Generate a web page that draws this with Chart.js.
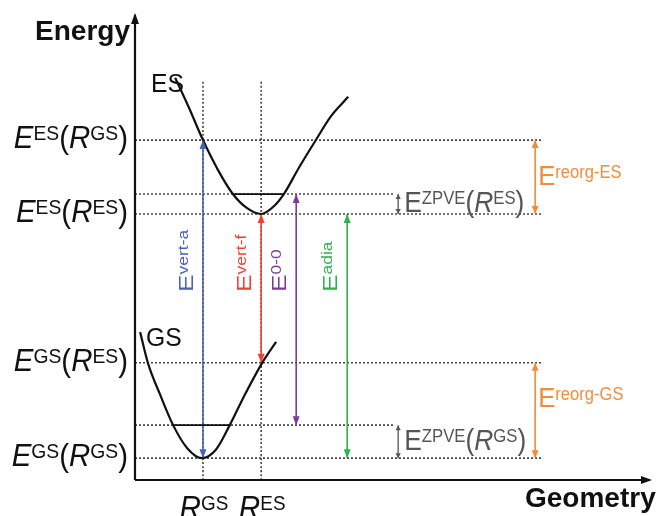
<!DOCTYPE html>
<html>
<head>
<meta charset="utf-8">
<script src="https://cdn.jsdelivr.net/npm/chart.js@4.4.1/dist/chart.umd.min.js"></script>
<style>
html, body { margin: 0; padding: 0; background: #fff; }
#wrap { width: 661px; height: 516px; }
</style>
</head>
<body>
<div id="wrap"><canvas id="chart" width="661" height="516"></canvas></div>
<script>
// ===== Data (energy and geometry in arbitrary units) =====

const levelLabels = ['*E*^{ES}(*R*^{GS})', '*E*^{ES}(*R*^{ES})', '*E*^{GS}(*R*^{ES})', '*E*^{GS}(*R*^{GS})'];
const levelEnergies = [7.31, 5.72, 2.52, 0.47];
const levelGuideEnd = 7.90;

const geometryLabels = ['*R*^{GS}', '*R*^{ES}'];
const geometryValues = [1.32, 2.45];
const geometryGuideTop = 8.6;

const esCurveX = [0.78, 1.05, 1.32, 1.61, 1.90, 2.17, 2.45, 2.68, 2.89, 3.18, 3.50, 3.81, 4.14];
const esCurveY = [8.65, 8.00, 7.31, 6.67, 6.15, 5.85, 5.72, 5.87, 6.15, 6.71, 7.29, 7.83, 8.24];
const gsCurveX = [0.10, 0.25, 0.49, 0.74, 1.01, 1.30, 1.57, 1.84, 2.14, 2.47, 2.74];
const gsCurveY = [3.18, 2.52, 1.83, 1.18, 0.69, 0.47, 0.65, 1.18, 1.85, 2.52, 2.97];

const zpveLabels = ['E^{ZPVE}(*R*^{ES})', 'E^{ZPVE}(*R*^{GS})'];
const zpveLow = [5.72, 0.47];
const zpveHigh = [6.15, 1.18];
const zpveLevelLeft = [1.90, 0.74];
const zpveLevelRight = [2.89, 1.84];
const zpveArrowX = 5.11;
const zpveGuideEnd = 5.05;

const transitionLabels = ['E^{vert-a}', 'E^{vert-f}', 'E^{0-0}', 'E^{adia}'];
const transitionX = [1.32, 2.45, 3.13, 4.12];
const transitionLow = [0.47, 2.52, 1.18, 0.47];
const transitionHigh = [7.31, 5.72, 6.15, 5.72];

const reorgLabels = ['E^{reorg-ES}', 'E^{reorg-GS}'];
const reorgX = 7.77;
const reorgLow = [5.72, 0.47];
const reorgHigh = [7.31, 2.52];

// ===== Styles =====

const FONT = '"Liberation Sans", Arial, sans-serif';
const transitionColors = ['#4a62b8', '#ee4135', '#7d3c98', '#2fb24c'];
const reorgColor = '#f28c3a';
const guideColor = '#444';
const zpveColor = '#555';

// ===== Helpers =====

const seg = (x1, y1, x2, y2) => [{ x: x1, y: y1 }, { x: x2, y: y2 }];
const line = (data, color, width, dash) => ({
    data: data,
    borderColor: color,
    borderWidth: width,
    borderDash: dash || [],
    showLine: true,
    pointRadius: 0,
    fill: false,
    cubicInterpolationMode: 'monotone'
});

function parseRich(str) {
    const segs = [];
    let italic = false, sup = false, buf = '';
    const push = () => { if (buf) segs.push({ text: buf, italic: italic, sup: sup }); buf = ''; };
    for (let i = 0; i < str.length; i++) {
        const c = str[i];
        if (c === '*') { push(); italic = !italic; }
        else if (c === '^' && str[i + 1] === '{') { push(); sup = true; i++; }
        else if (c === '}' && sup) { push(); sup = false; }
        else buf += c;
    }
    push();
    return segs;
}

function drawRich(ctx, str, x, y, o) {
    const segs = parseRich(str);
    const supSize = o.sup || o.size;
    const fontFor = s => (s.italic ? 'italic ' : '') + (o.bold ? 'bold ' : '') + (s.sup ? supSize : o.size) + 'px ' + FONT;
    let w = 0;
    segs.forEach(s => { ctx.font = fontFor(s); s.w = ctx.measureText(s.text).width; w += s.w; });
    const raise = 0.716 * (o.size - supSize);
    ctx.save();
    ctx.translate(x, y);
    if (o.rotate) ctx.rotate(o.rotate);
    ctx.scale(o.sx || 1, 1);
    ctx.fillStyle = o.color || '#111';
    ctx.textAlign = 'left';
    ctx.textBaseline = 'alphabetic';
    let cx = o.align === 'right' ? -w : o.align === 'center' ? -w / 2 : 0;
    segs.forEach(s => { ctx.font = fontFor(s); ctx.fillText(s.text, cx, s.sup ? -raise : 0); cx += s.w; });
    ctx.restore();
}

function vHead(ctx, x, y, dir, len, half, color) {
    // dir -1 points up, 1 points down; tip at (x, y)
    ctx.beginPath();
    ctx.moveTo(x, y);
    ctx.lineTo(x - half, y - dir * len);
    ctx.lineTo(x + half, y - dir * len);
    ctx.closePath();
    ctx.fillStyle = color;
    ctx.fill();
}

// ===== Datasets =====

const datasets = [];
datasets.push(line(esCurveX.map((x, i) => ({ x: x, y: esCurveY[i] })), '#111', 2.2));
datasets.push(line(gsCurveX.map((x, i) => ({ x: x, y: gsCurveY[i] })), '#111', 2.2));
zpveHigh.forEach((e, i) => datasets.push(line(seg(zpveLevelLeft[i], e, zpveLevelRight[i], e), '#111', 1.8)));
transitionX.forEach((x, i) => datasets.push(line(seg(x, transitionLow[i], x, transitionHigh[i]), transitionColors[i], 1.6)));
reorgLow.forEach((e, i) => datasets.push(line(seg(reorgX, e, reorgX, reorgHigh[i]), reorgColor, 1.6)));
zpveLow.forEach((e, i) => datasets.push(line(seg(zpveArrowX, e, zpveArrowX, zpveHigh[i]), zpveColor, 1.3)));
levelEnergies.forEach(e => datasets.push(line(seg(0, e, levelGuideEnd, e), guideColor, 1.6, [2, 2])));
zpveHigh.forEach(e => datasets.push(line(seg(0, e, zpveGuideEnd, e), guideColor, 1.6, [2, 2])));
geometryValues.forEach(g => datasets.push(line(seg(g, 0, g, geometryGuideTop), guideColor, 1.6, [2, 2])));

// ===== Annotation plugin =====

const diagramPlugin = {
    id: 'diagram',
    afterDraw(chart) {
        const ctx = chart.ctx;
        const xs = chart.scales.x, ys = chart.scales.y;
        const area = chart.chartArea;
        const px = v => xs.getPixelForValue(v);
        const py = v => ys.getPixelForValue(v);

        // axes with arrows
        ctx.save();
        ctx.strokeStyle = '#111';
        ctx.lineWidth = 2.2;
        ctx.beginPath();
        ctx.moveTo(area.left, area.bottom);
        ctx.lineTo(area.left, area.top);
        ctx.moveTo(area.left, area.bottom);
        ctx.lineTo(area.right, area.bottom);
        ctx.stroke();
        vHead(ctx, area.left, area.top - 2, -1, 11, 4, '#111');
        ctx.beginPath();
        ctx.moveTo(area.right + 2, area.bottom);
        ctx.lineTo(area.right - 9, area.bottom - 4);
        ctx.lineTo(area.right - 9, area.bottom + 4);
        ctx.closePath();
        ctx.fill();
        ctx.restore();

        // arrow heads
        transitionX.forEach((x, i) => {
            vHead(ctx, px(x), py(transitionHigh[i]), -1, 9, 3.5, transitionColors[i]);
            vHead(ctx, px(x), py(transitionLow[i]), 1, 9, 3.5, transitionColors[i]);
        });
        reorgLow.forEach((e, i) => {
            vHead(ctx, px(reorgX), py(reorgHigh[i]), -1, 8, 3.5, reorgColor);
            vHead(ctx, px(reorgX), py(e), 1, 8, 3.5, reorgColor);
        });
        zpveLow.forEach((e, i) => {
            vHead(ctx, px(zpveArrowX), py(zpveHigh[i]), -1, 5, 2.6, zpveColor);
            vHead(ctx, px(zpveArrowX), py(e), 1, 5, 2.6, zpveColor);
        });

        // axis titles
        drawRich(ctx, 'Energy', area.left - 5, 40, { size: 28, bold: true, align: 'right', color: '#111' });
        drawRich(ctx, 'Geometry', 525, 507, { size: 28, bold: true, color: '#111' });

        // energy tick labels
        levelEnergies.forEach((e, i) => {
            drawRich(ctx, levelLabels[i], 128, py(e) + 8, { size: 32, sup: 21, sx: 0.92, align: 'right', color: '#111' });
        });
        // geometry tick labels
        geometryValues.forEach((g, i) => {
            drawRich(ctx, geometryLabels[i], px(g) + 1, 519, { size: 33, sup: 21, sx: 0.9, align: 'center', color: '#111' });
        });

        // state names
        drawRich(ctx, 'ES', 151, 92, { size: 26, sx: 0.95, color: '#111' });
        drawRich(ctx, 'GS', 146, 346, { size: 26, sx: 0.95, color: '#111' });

        // vertical transition labels
        transitionX.forEach((x, i) => {
            drawRich(ctx, transitionLabels[i], px(x) - 10, 292, { size: 21, sup: 14, sx: 1.25, rotate: -Math.PI / 2, color: transitionColors[i] });
        });

        // ZPVE labels
        zpveLow.forEach((e, i) => {
            const mid = (py(e) + py(zpveHigh[i])) / 2;
            drawRich(ctx, zpveLabels[i], px(zpveArrowX) + 6, mid + 8, { size: 30, sup: 19, sx: 0.88, color: zpveColor });
        });

        // reorganisation labels
        drawRich(ctx, reorgLabels[0], px(reorgX) + 3, 185, { size: 28, sup: 18, sx: 0.92, color: reorgColor });
        drawRich(ctx, reorgLabels[1], px(reorgX) + 3, 407, { size: 28, sup: 18, sx: 0.92, color: reorgColor });
    }
};

// ===== Chart =====

new Chart(document.getElementById('chart'), {
    type: 'scatter',
    data: { datasets: datasets },
    options: {
        responsive: false,
        animation: false,
        devicePixelRatio: 1,
        events: [],
        layout: { padding: { left: 135, right: 11, top: 15, bottom: 36 } },
        scales: {
            x: { type: 'linear', display: false, min: 0, max: 10 },
            y: { type: 'linear', display: false, min: 0, max: 10 }
        },
        plugins: { legend: { display: false }, tooltip: { enabled: false } }
    },
    plugins: [diagramPlugin]
});
</script>
</body>
</html>
